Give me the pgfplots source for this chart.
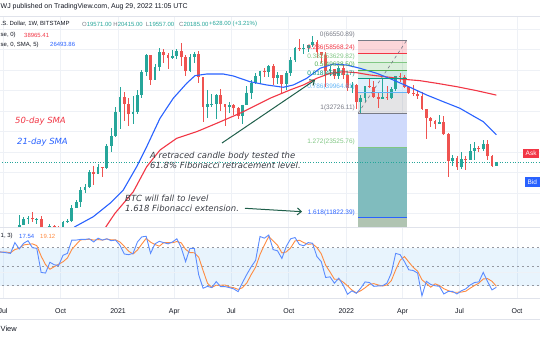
\documentclass[border=0pt]{standalone}
\usepackage{pgfplots}
\pgfplotsset{compat=1.18}
\usepackage{pgfplotstable}
\usepackage{fontspec}
\setmainfont{Liberation Sans}
\newfontfamily\annofont{DejaVu Sans}
\usetikzlibrary{arrows.meta}

\definecolor{tvgreen}{HTML}{26A69A}
\definecolor{tvred}{HTML}{EF5350}
\definecolor{smared}{HTML}{F23645}
\definecolor{smablue}{HTML}{2962FF}
\definecolor{gridc}{HTML}{EEF1F6}
\definecolor{sepc}{HTML}{E0E3EB}
\definecolor{txt}{HTML}{131722}
\definecolor{txtgray}{HTML}{787B86}
\definecolor{stK}{HTML}{5B8CFF}
\definecolor{stD}{HTML}{FF8C42}
\definecolor{bandc}{HTML}{2196F3}
\definecolor{dashc}{HTML}{9598A1}
\definecolor{annoc}{HTML}{3A3D45}
\definecolor{arrowc}{HTML}{1F5F4A}
\definecolor{fibA}{HTML}{81C784}
\definecolor{fibB}{HTML}{4CAF50}
\definecolor{fibC}{HTML}{089981}
\definecolor{fibD}{HTML}{64B5F6}
\definecolor{fibLav}{RGB}{207,218,252}
\definecolor{fibTeal}{RGB}{128,188,190}
\definecolor{fibGG}{RGB}{176,196,178}

% weekly candles, x = days since 2020-07-01
\pgfplotstableread{
d O H L C
12 9300 9350 9100 9160
19 9160 9990 9050 9930
26 9930 12100 9900 11050
33 11050 11900 11000 11680
40 11680 12090 11150 11850
47 11850 12470 11370 11650
54 11650 11780 11120 11700
61 11700 12090 9900 10250
68 10250 10600 9850 10330
75 10330 11100 10200 10920
82 10920 10990 10150 10770
89 10770 10950 10400 10670
96 10670 11480 10520 11370
103 11370 11720 11250 11500
110 11500 13350 11400 13030
117 13030 14100 12950 13800
124 13800 15960 13200 15480
131 15480 16480 15100 15960
138 15960 18800 15800 18370
145 18370 19480 16200 18180
152 18180 19900 18100 19370
159 19370 19420 17600 19170
166 19170 24300 19000 23850
173 23850 28400 22350 26300
180 26300 34800 25900 33000
187 33000 41950 28000 38150
194 38150 40100 30400 35800
201 35800 37850 28850 32300
208 32300 38500 29300 33100
215 33100 40950 32300 38900
222 38900 49700 37950 48600
229 48600 58350 47000 57500
236 57500 57600 43000 45200
243 45200 52650 45000 51250
250 51250 61800 49300 59000
257 59000 61000 53300 57500
264 57500 58400 50400 55850
271 55850 60200 55500 57100
278 57100 61200 55500 60000
285 60000 64900 51500 56200
292 56200 57500 47000 49000
299 49000 58000 48800 56600
306 56600 59500 53000 58200
313 58200 59600 43800 46400
320 46400 46600 30000 34700
327 34700 40900 31100 35700
334 35700 39500 34700 35800
341 35800 39400 31000 39000
348 39000 41300 33400 35600
355 35600 35700 28800 34700
362 34700 36600 32700 35300
369 35300 35900 32000 34250
376 34250 34700 31000 31800
383 31800 35500 29300 35400
390 35400 42600 35300 39900
397 39900 45300 37600 43800
404 43800 48100 43300 47000
411 47000 49400 43900 49300
418 49300 50500 46400 48800
425 48800 52000 46600 51750
432 51750 52900 42800 46000
439 46000 48800 43400 47200
446 47200 47400 39600 43200
453 43200 49000 40800 48200
460 48200 56500 46900 54700
467 54700 62000 53900 61500
474 61500 67000 59600 61300
481 61300 63700 57800 61350
488 61350 63300 59400 63300
495 63300 69000 62300 65000
502 65000 66300 55600 59000
509 59000 59200 53250 57250
516 57250 59200 42000 49400
523 49400 51900 46900 50100
530 50100 50400 45500 46700
537 46700 51900 45600 50800
544 50800 52000 45700 47300
551 47300 47500 40600 41900
558 41900 44400 39600 43100
565 43100 43500 34000 36300
572 36300 38900 32900 37900
579 37900 42600 36300 42400
586 42400 45800 41700 42200
593 42200 44700 38000 38400
600 38400 39800 34300 37700
607 37700 45400 37400 38400
614 38400 42600 37200 37800
621 37800 42300 37600 41300
628 41300 46900 40500 46800
635 46800 48200 44400 46400
642 46400 47200 41900 42200
649 42200 42400 39200 39700
656 39700 42900 38600 39500
663 39500 40800 37700 38500
670 38500 40000 33700 34000
677 34000 34200 25400 31300
684 31300 31400 28600 30300
691 30300 30650 28000 29450
698 29450 32200 29300 29900
705 29900 31700 26550 26580
712 26580 26900 17600 20550
719 20550 21850 19600 21050
726 21050 21500 18800 19300
733 19300 22500 19000 20850
740 20850 21600 18900 20800
747 20800 24300 20750 22600
754 22600 24650 20700 23300
761 23300 23650 22400 23170
768 23170 25200 22700 24300
775 24300 25200 20800 21500
782 21500 21800 19600 19571
789 19571 20415 19557 20185
}\candles

% stochastic (14,1,3): K and D
\pgfplotstableread{
d K D
-16 72 73
-9 74 73
-2 73 73
5 72 73
12 71 72
19 88 77
26 78 79
33 87 84.3
40 91 85.3
47 80 86
54 79 83.3
61 41 66.7
68 40 53.3
75 57 46
82 53 50
89 52 54
96 68 57.7
103 71 63.7
110 92 77
117 92 85
124 93 92.3
131 93 92.7
138 94 93.3
145 89 92
152 95 92.7
159 92 92
166 94 93.7
173 91 92.3
180 92 92.3
187 84 89
194 70 82
201 69 74.3
208 71 70
215 89 76.3
222 97 85.7
229 98 94.7
236 71 88.7
243 86 85
250 90 82.3
257 88 88
264 86 88
271 89 87.7
278 94 89.7
285 80 87.7
292 58 77.3
299 79 72.3
306 79 72
313 37 65
320 16 44
327 19 24
334 17 17.3
341 26.5 20.8
348 18.6 20.7
355 18.6 21.2
362 17 18.1
369 15 16.9
376 10.7 14.2
383 25 16.9
390 38 24.6
397 50 37.7
404 60 49.3
411 97.6 69.2
418 95 84.2
425 100 97.5
432 77 90.7
439 75 84
446 63 71.7
453 82 73.3
460 94 79.7
467 96 90.7
474 85 91.7
481 83 88
488 88 85.3
495 87 86
502 66 80.3
509 58 70.3
516 33 52.3
523 34 41.7
530 24 30.3
537 32 30
544 21 25.7
551 6.5 19.8
558 12 13.2
565 8 8.8
572 16 12
579 26 16.7
586 25 22.3
593 19 23.3
600 19.6 21.2
607 20 19.5
614 24 21.2
621 40 28
628 71 45
635 69 60
642 58 66
649 45 57.3
656 44 49
663 40 43
670 4 29.3
677 27 23.7
684 22 17.7
691 20 23
698 19 20.3
705 7 15.3
712 11 12.3
719 11 9.7
726 7 9.7
733 12 10
740 15 11.3
747 21 16
754 25 20.3
761 26 24
768 41 30.7
775 26.5 31.2
782 13.4 27
789 17.54 19.12
}\stoch

\begin{document}
\begin{tikzpicture}
\path[use as bounding box] (0,0) rectangle (540bp,-340bp);
\fill[white] (0,0) rectangle (540bp,-340bp);

% ---------------- price pane ----------------
\begin{axis}[
  at={(0bp,-16bp)}, anchor=north west, scale only axis,
  width=540bp, height=211bp,
  xmin=-4.8, xmax=858.8,
  ymode=log, ymin=10817, ymax=84026,
  axis line style={draw=none}, major tick length=0pt, minor tick num=0,
  xtick={0,92,184,274,365,457,549,639,730,822}, xticklabels={},
  ytick={12330,15050,18360,22410,27350,33370,40730,49710,60670,74040}, yticklabels={},
  xmajorgrids, ymajorgrids, grid style={draw=gridc, line width=0.7bp},
]
% fib retracement bands
\addplot[draw=none, fill=smared, fill opacity=0.2] coordinates {(568,66550.89) (646,66550.89) (646,58568.24) (568,58568.24)} --cycle;
\addplot[draw=none, fill=fibA, fill opacity=0.2] coordinates {(568,58568.24) (646,58568.24) (646,53629.82) (568,53629.82)} --cycle;
\addplot[draw=none, fill=fibB, fill opacity=0.2] coordinates {(568,53629.82) (646,53629.82) (646,49638.50) (568,49638.50)} --cycle;
\addplot[draw=none, fill=fibC, fill opacity=0.2] coordinates {(568,49638.50) (646,49638.50) (646,45647.17) (568,45647.17)} --cycle;
\addplot[draw=none, fill=fibD, fill opacity=0.2] coordinates {(568,45647.17) (646,45647.17) (646,39964.61) (568,39964.61)} --cycle;
\addplot[draw=none, fill=txtgray, fill opacity=0.2] coordinates {(568,39964.61) (646,39964.61) (646,32726.11) (568,32726.11)} --cycle;
\addplot[draw=none, fill=fibLav] coordinates {(568,32726.11) (646,32726.11) (646,23525.76) (568,23525.76)} --cycle;
\addplot[draw=none, fill=fibTeal] coordinates {(568,23525.76) (646,23525.76) (646,11822.39) (568,11822.39)} --cycle;
\addplot[draw=none, fill=fibGG] coordinates {(568,11822.39) (646,11822.39) (646,9000) (568,9000)} --cycle;

% current price line
\addplot[tvgreen, dotted, line width=0.6bp] coordinates {(-10,20185) (870,20185)};

% candles: wicks then bodies
\addplot[draw=none, forget plot, restrict expr to domain={\thisrow{C}-\thisrow{O}}{0:1000000},
  error bars/.cd, y dir=both, y explicit, error mark=none,
  error bar style={draw=tvgreen, line width=0.8bp}]
  table[x=d, y=C, y error plus expr={\thisrow{H}-\thisrow{C}}, y error minus expr={\thisrow{C}-\thisrow{L}}]{\candles};
\addplot[draw=none, forget plot, restrict expr to domain={\thisrow{O}-\thisrow{C}}{0.000001:1000000},
  error bars/.cd, y dir=both, y explicit, error mark=none,
  error bar style={draw=tvred, line width=0.8bp}]
  table[x=d, y=C, y error plus expr={\thisrow{H}-\thisrow{C}}, y error minus expr={\thisrow{C}-\thisrow{L}}]{\candles};
\addplot[draw=none, forget plot, restrict expr to domain={\thisrow{C}-\thisrow{O}}{0:1000000},
  error bars/.cd, y dir=both, y explicit, error mark=none,
  error bar style={draw=tvgreen, line width=2.8bp, line cap=butt}]
  table[x=d, y=C, y error plus expr={0}, y error minus expr={\thisrow{C}-\thisrow{O}}]{\candles};
\addplot[draw=none, forget plot, restrict expr to domain={\thisrow{O}-\thisrow{C}}{0.000001:1000000},
  error bars/.cd, y dir=both, y explicit, error mark=none,
  error bar style={draw=tvred, line width=2.8bp, line cap=butt}]
  table[x=d, y=C, y error plus expr={\thisrow{O}-\thisrow{C}}, y error minus expr={0}]{\candles};

% moving averages
\addplot[smared, line width=1.1bp] coordinates {
(155,10010) (164.7,10849) (179.1,12357) (208.4,15243) (229.8,19434) (251.1,22856)
(277.8,25610) (309.8,27310) (341.8,29630) (379,32660) (411,35980) (427,37780)
(459,40950) (480.3,42990) (501.7,45870) (523,48150) (544.2,48900) (565.7,48430)
(586.9,47370) (618.9,46320) (640.2,45430) (666.9,44820) (693.6,43700) (725.6,42280)
(757.6,40670) (789,38965.41)};
\addplot[smablue, line width=1.1bp] coordinates {
(107,10305) (115.1,10849) (144.4,11955) (171.1,13618) (192.4,15497) (213.8,19434)
(229.8,23605) (251.1,31110) (272.3,37780) (293.8,43700) (307,47040) (325.8,47820)
(352.3,47820) (368.3,46910) (395,44380) (421.7,42990) (448.3,42040) (464.3,42990)
(485.7,45870) (507,50550) (528.2,52700) (549.7,52190) (570.9,50550) (597.6,48150)
(624.2,45120) (650.9,42040) (677.6,39000) (704.2,36540) (730.8,34270) (752.1,31800)
(768.1,30090) (789,26493.86)};

% fib level lines
\addplot[txtgray, line width=0.7bp] coordinates {(568,66550.89) (646,66550.89)};
\addplot[smared, line width=0.7bp] coordinates {(568,58568.24) (646,58568.24)};
\addplot[fibA, line width=0.7bp] coordinates {(568,53629.82) (646,53629.82)};
\addplot[fibB, line width=0.7bp] coordinates {(568,49638.50) (646,49638.50)};
\addplot[fibC, line width=0.7bp] coordinates {(568,45647.17) (646,45647.17)};
\addplot[fibD, line width=0.7bp] coordinates {(568,39964.61) (646,39964.61)};
\addplot[txtgray, line width=0.7bp] coordinates {(568,32726.11) (646,32726.11)};
\addplot[fibA, line width=0.7bp] coordinates {(568,23525.76) (646,23525.76)};
\addplot[smablue, line width=0.7bp] coordinates {(568,11822.39) (646,11822.39)};
\addplot[txtgray, dashed, line width=0.6bp] coordinates {(568,32726.11) (646,66550.89)};

\begin{scope}[font=\fontsize{6.5}{7}\selectfont, inner sep=0pt]
\node[anchor=base east, text=txtgray, yshift=3.5bp] at (axis cs:563,66550.89) {0(66550.89)};
\node[anchor=base east, text=smared, yshift=3.5bp] at (axis cs:563,58568.24) {0.236(58568.24)};
\node[anchor=base east, text=fibA, yshift=3.5bp] at (axis cs:563,53629.82) {0.382(53629.82)};
\node[anchor=base east, text=fibB, yshift=3.5bp] at (axis cs:563,49638.50) {0.5(49638.50)};
\node[anchor=base east, text=fibC, yshift=3.5bp] at (axis cs:563,45647.17) {0.618(45647.17)};
\node[anchor=base east, text=fibD, yshift=3.5bp] at (axis cs:563,39964.61) {0.786(39964.61)};
\node[anchor=base east, text=txtgray, yshift=3.5bp] at (axis cs:563,32726.11) {1(32726.11)};
\node[anchor=base east, text=fibA, yshift=3.5bp] at (axis cs:563,23525.76) {1.272(23525.76)};
\node[anchor=base east, text=smablue, yshift=3.5bp] at (axis cs:563,11822.39) {1.618(11822.39)};
\end{scope}
\end{axis}

% ---------------- stochastic pane ----------------
\begin{axis}[
  at={(0bp,-227bp)}, anchor=north west, scale only axis,
  width=540bp, height=71.4bp,
  xmin=-4.8, xmax=858.8, ymin=0, ymax=112.6,
  axis line style={draw=none}, major tick length=0pt,
  xtick={0,92,184,274,365,457,549,639,730,822},
  xticklabels={Jul,Oct,2021,Apr,Jul,Oct,2022,Apr,Jul,Oct},
  xticklabel style={font=\fontsize{7}{8}\selectfont, text=txt, yshift=-7bp},
  ytick=\empty, xmajorgrids, grid style={draw=gridc, line width=0.7bp},
]
\addplot[draw=none, fill=bandc, fill opacity=0.1] coordinates {(-10,20) (870,20) (870,80) (-10,80)} --cycle;
\addplot[gridc, line width=0.7bp] coordinates {(-10,40.6) (870,40.6)};
\addplot[dashc, dash pattern=on 2.5bp off 2.5bp, line width=0.7bp] coordinates {(-10,80) (870,80)};
\addplot[dashc, dash pattern=on 2.5bp off 2.5bp, line width=0.7bp] coordinates {(-10,50) (870,50)};
\addplot[dashc, dash pattern=on 2.5bp off 2.5bp, line width=0.7bp] coordinates {(-10,20) (870,20)};
\addplot[stD, line width=0.9bp] table[x=d, y=D]{\stoch};
\addplot[stK, line width=0.9bp] table[x=d, y=K]{\stoch};
\end{axis}

% ---------------- overlay (pixel coordinates) ----------------
\begin{scope}[x=1bp, y=-1bp]
\draw[sepc, line width=0.8bp] (0,16) -- (540,16);
\draw[sepc, line width=1bp] (0,227) -- (540,227);
\draw[sepc, line width=0.8bp] (0,298.6) -- (540,298.6);
\draw[sepc, line width=0.8bp] (0,319) -- (540,319);

\begin{scope}[inner sep=0pt]
\node[anchor=west, font=\fontsize{7}{8}\selectfont, text=txt] at (0.5,7) {WJ published on TradingView.com, Aug 29, 2022 11:05 UTC};
\begin{scope}[font=\fontsize{6}{7}\selectfont]
\node[anchor=west, text=txt] at (0.5,24) {.S. Dollar, 1W, BITSTAMP};
\node[anchor=west] at (82,24) {\textcolor{txtgray}{O}\textcolor{tvgreen}{19571.00}};
\node[anchor=west] at (113.3,24) {\textcolor{txtgray}{H}\textcolor{tvgreen}{20415.00}};
\node[anchor=west] at (145.7,24) {\textcolor{txtgray}{L}\textcolor{tvgreen}{19557.00}};
\node[anchor=west] at (179,24) {\textcolor{txtgray}{C}\textcolor{tvgreen}{20185.00}};
\node[anchor=west, text=tvgreen] at (209,24) {+628.00 (+3.21\%)};
\node[anchor=west, text=txt] at (0.5,35) {se, 0)};
\node[anchor=west, text=smared] at (24,35) {38965.41};
\node[anchor=west, text=txt] at (0.5,44.7) {se, 0, SMA, 5)};
\node[anchor=west, text=smablue] at (50,44.7) {26493.86};
\node[anchor=west, text=txt] at (0.5,236) {1, 3)};
\node[anchor=west, text=smablue] at (19,236) {17.54};
\node[anchor=west, text=stD] at (40,236) {19.12};
\end{scope}

\begin{scope}[font=\annofont\itshape\fontsize{8.5}{10}\selectfont]
\node[anchor=west, text=smared] at (15,121) {50-day SMA};
\node[anchor=west, text=smablue] at (17,142) {21-day SMA};
\node[anchor=west, text=annoc] at (150,156) {A retraced candle body tested the};
\node[anchor=west, text=annoc] at (150,165.5) {61.8\% Fibonacci retracement level.};
\node[anchor=west, text=annoc] at (125,198) {BTC will fall to level};
\node[anchor=west, text=annoc] at (125,208) {1.618 Fibonacci extension.};
\end{scope}

\node[anchor=west, font=\fontsize{7.5}{8}\selectfont, text=txt] at (0.5,329) {View};

\node[anchor=west, fill=smared, text=white, font=\fontsize{6.5}{7}\selectfont, inner xsep=2.5bp, minimum height=9bp] at (523,153.5) {Ask};
\node[anchor=west, fill=smablue, text=white, font=\fontsize{6.5}{7}\selectfont, inner xsep=2.5bp, minimum height=9.5bp] at (525,182) {Bid};
\end{scope}

\draw[arrowc, line width=1bp, -{Straight Barb[length=4bp,width=7bp]}] (222,143) -- (315,80);
\draw[arrowc, line width=1bp, -{Straight Barb[length=4bp,width=7bp]}] (245,208.3) -- (302,211.7);
\end{scope}
\end{tikzpicture}
\end{document}
